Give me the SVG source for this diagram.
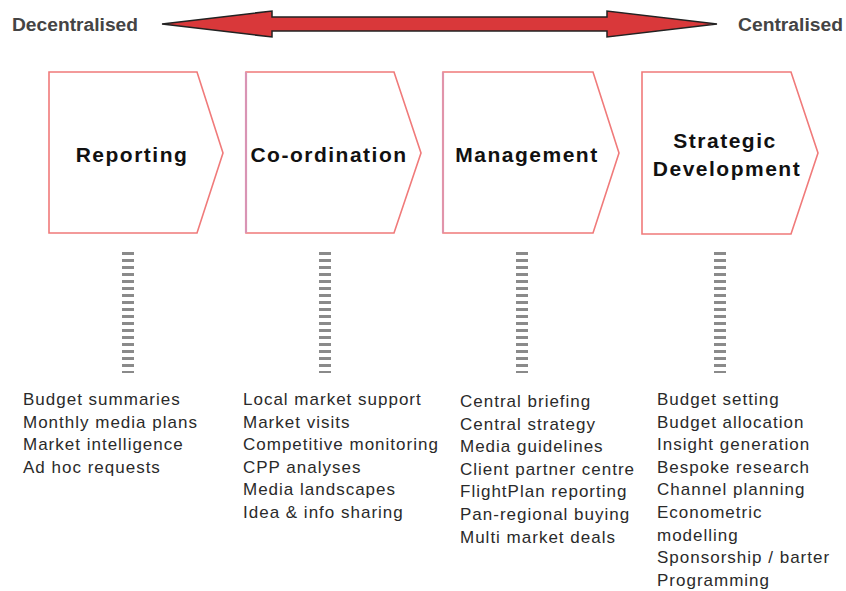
<svg xmlns="http://www.w3.org/2000/svg" width="846" height="591" viewBox="0 0 846 591">
<style>
.box{fill:#fff;stroke:#f07a7a;stroke-width:1.6;stroke-linejoin:miter}
.edge{stroke:#d994b4;stroke-width:2.2}
.lbl{font-family:"Liberation Sans",Arial,sans-serif;font-weight:bold;font-size:21px;letter-spacing:1.5px;fill:#111;text-anchor:middle}
.end{font-family:"Liberation Sans Narrow","Liberation Sans",Arial,sans-serif;font-weight:bold;font-size:18px;fill:#444}
.item{font-family:"Liberation Sans",Arial,sans-serif;font-size:17px;letter-spacing:1px;fill:#2a2a2a}
.dash{stroke:#8a8a8a;stroke-width:12;stroke-dasharray:3 4;fill:none}
</style>
<rect width="846" height="591" fill="#fff"/>
<g id="scale">
<polygon points="162,24 272,11 272,17 607,17 607,11 717,24 607,37 607,31 272,31 272,37" fill="#d9383a" stroke="#222" stroke-width="1.5" stroke-linejoin="miter"/>
<text class="end" x="12" y="31" textLength="126" lengthAdjust="spacingAndGlyphs">Decentralised</text>
<text class="end" x="738" y="31" textLength="105" lengthAdjust="spacingAndGlyphs">Centralised</text>
</g>
<g id="reporting">
<polygon class="box" points="49,72 197,72 223,153 197,233 49,233"/>
<text class="lbl" x="132" y="162">Reporting</text>
</g>
<g id="coordination">
<polygon class="box" points="246,72 394,72 421,153 394,233 246,233"/>
<line class="edge" x1="246" y1="72" x2="246" y2="233"/>
<text class="lbl" x="329" y="162">Co-ordination</text>
</g>
<g id="management">
<polygon class="box" points="443,72 593,72 619,153 593,233 443,233"/>
<line class="edge" x1="443" y1="72" x2="443" y2="233" stroke-opacity="0.7"/>
<text class="lbl" x="527" y="162">Management</text>
</g>
<g id="strategic">
<polygon class="box" points="642,72 791,72 818,153 791,234 642,234"/>
<text class="lbl" x="725" y="148">Strategic</text>
<text class="lbl" x="727" y="176">Development</text>
</g>
<g id="connectors">
<line class="dash" x1="128" y1="252" x2="128" y2="373"/>
<line class="dash" x1="325" y1="252" x2="325" y2="373"/>
<line class="dash" x1="522" y1="252" x2="522" y2="373"/>
<line class="dash" x1="720" y1="252" x2="720" y2="373"/>
</g>
<g id="list-reporting">
<text class="item" x="23" y="405">Budget summaries</text>
<text class="item" x="23" y="427.6">Monthly media plans</text>
<text class="item" x="23" y="450.2">Market intelligence</text>
<text class="item" x="23" y="472.8">Ad hoc requests</text>
</g>
<g id="list-coordination">
<text class="item" x="243" y="405">Local market support</text>
<text class="item" x="243" y="427.6">Market visits</text>
<text class="item" x="243" y="450.2">Competitive monitoring</text>
<text class="item" x="243" y="472.8">CPP analyses</text>
<text class="item" x="243" y="495.4">Media landscapes</text>
<text class="item" x="243" y="518">Idea &amp; info sharing</text>
</g>
<g id="list-management">
<text class="item" x="460" y="407">Central briefing</text>
<text class="item" x="460" y="429.6">Central strategy</text>
<text class="item" x="460" y="452.2">Media guidelines</text>
<text class="item" x="460" y="474.8">Client partner centre</text>
<text class="item" x="460" y="497.4">FlightPlan reporting</text>
<text class="item" x="460" y="520">Pan-regional buying</text>
<text class="item" x="460" y="542.6">Multi market deals</text>
</g>
<g id="list-strategic">
<text class="item" x="657" y="405">Budget setting</text>
<text class="item" x="657" y="427.6">Budget allocation</text>
<text class="item" x="657" y="450.2">Insight generation</text>
<text class="item" x="657" y="472.8">Bespoke research</text>
<text class="item" x="657" y="495.4">Channel planning</text>
<text class="item" x="657" y="518">Econometric</text>
<text class="item" x="657" y="540.6">modelling</text>
<text class="item" x="657" y="563.2">Sponsorship / barter</text>
<text class="item" x="657" y="585.8">Programming</text>
</g>
</svg>
